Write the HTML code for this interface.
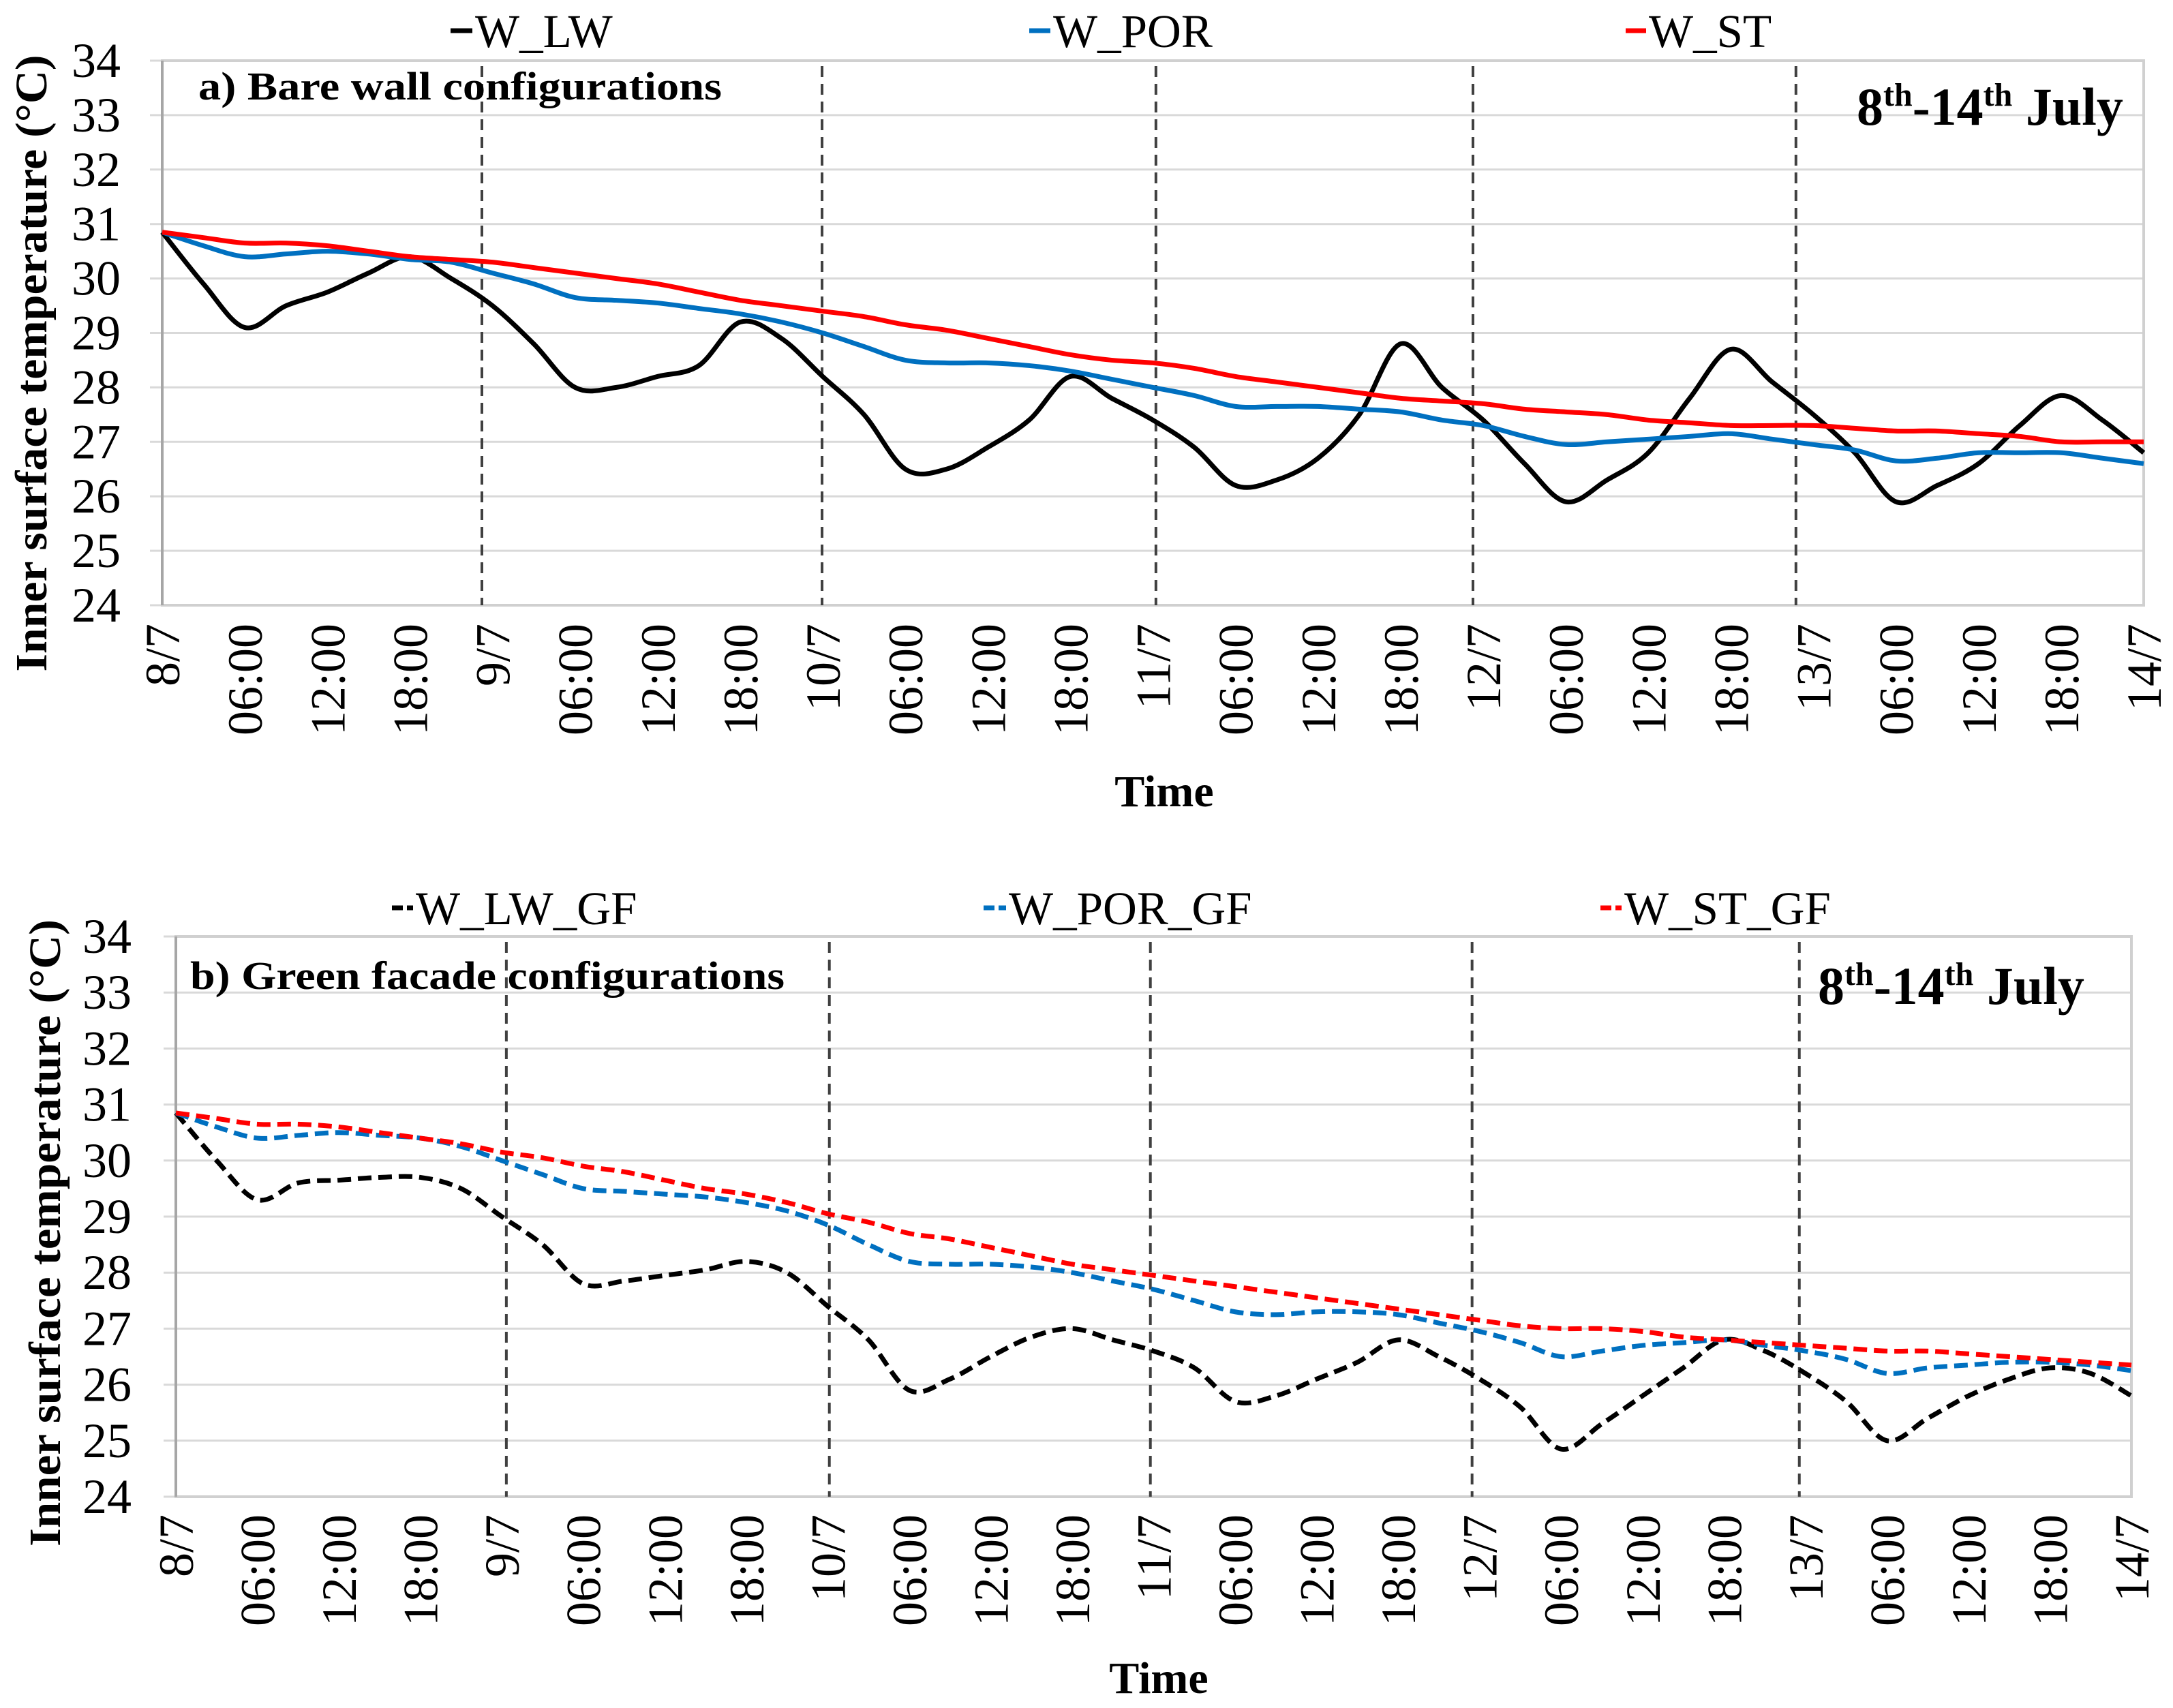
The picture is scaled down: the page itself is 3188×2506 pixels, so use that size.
<!DOCTYPE html>
<html><head><meta charset="utf-8"><style>
html,body{margin:0;padding:0;background:#fff;}
svg{display:block;font-family:"Liberation Serif",serif;}
</style></head><body>
<svg id="chart" width="3188" height="2506" viewBox="0 0 3188 2506" xmlns="http://www.w3.org/2000/svg"></svg>
<script>
const tickLabels = ["8/7","06:00","12:00","18:00","9/7","06:00","12:00","18:00","10/7","06:00","12:00","18:00","11/7","06:00","12:00","18:00","12/7","06:00","12:00","18:00","13/7","06:00","12:00","18:00","14/7"];
const yTicks = [24,25,26,27,28,29,30,31,32,33,34];
// values every 3 hours, 8/7 00:00 to 14/7 00:00
const wLW = [30.85,29.9,29.1,29.5,29.75,30.1,30.4,30.0,29.5,28.8,28.0,28.0,28.2,28.4,29.2,28.9,28.2,27.5,26.5,26.5,26.9,27.4,28.2,27.8,27.4,26.9,26.2,26.3,26.7,27.5,28.8,28.0,27.4,26.6,25.9,26.3,26.8,27.8,28.7,28.1,27.5,26.8,25.9,26.2,26.6,27.3,27.85,27.4,26.8];
const wPOR = [30.85,30.6,30.4,30.45,30.5,30.45,30.35,30.3,30.1,29.9,29.65,29.6,29.55,29.45,29.35,29.2,29.0,28.75,28.5,28.45,28.45,28.4,28.3,28.15,28.0,27.85,27.65,27.65,27.65,27.6,27.55,27.4,27.3,27.1,26.95,27.0,27.05,27.1,27.15,27.05,26.95,26.85,26.65,26.7,26.8,26.8,26.8,26.7,26.6];
const wST = [30.85,30.75,30.65,30.65,30.6,30.5,30.4,30.35,30.3,30.2,30.1,30.0,29.9,29.75,29.6,29.5,29.4,29.3,29.15,29.05,28.9,28.75,28.6,28.5,28.45,28.35,28.2,28.1,28.0,27.9,27.8,27.75,27.7,27.6,27.55,27.5,27.4,27.35,27.3,27.3,27.3,27.25,27.2,27.2,27.15,27.1,27.0,27.0,27.0];
const wLWGF = [30.85,30.0,29.3,29.6,29.65,29.7,29.7,29.5,29.0,28.5,27.8,27.85,27.95,28.05,28.2,28.0,27.4,26.8,25.9,26.1,26.5,26.85,27.0,26.8,26.6,26.3,25.7,25.8,26.1,26.4,26.8,26.5,26.1,25.6,24.85,25.3,25.8,26.3,26.8,26.6,26.2,25.7,25.0,25.4,25.8,26.1,26.3,26.2,25.8];
const wPORGF = [30.85,30.6,30.4,30.45,30.5,30.45,30.4,30.25,30.0,29.75,29.5,29.45,29.4,29.35,29.25,29.1,28.85,28.5,28.2,28.15,28.15,28.1,28.0,27.85,27.7,27.5,27.3,27.25,27.3,27.3,27.25,27.1,26.95,26.75,26.5,26.6,26.7,26.75,26.8,26.7,26.6,26.45,26.2,26.3,26.35,26.4,26.4,26.35,26.25];
const wSTGF = [30.85,30.75,30.65,30.65,30.6,30.5,30.4,30.3,30.15,30.05,29.9,29.8,29.65,29.5,29.4,29.25,29.05,28.9,28.7,28.6,28.45,28.3,28.15,28.05,27.95,27.85,27.75,27.65,27.55,27.45,27.35,27.25,27.15,27.05,27.0,27.0,26.95,26.85,26.8,26.75,26.7,26.65,26.6,26.6,26.55,26.5,26.45,26.4,26.35];
const dayLinesA = [0.968,1.998,3.009,3.969,4.947];
const dayLinesB = [1.014,2.005,2.990,3.977,4.981];

const NS="http://www.w3.org/2000/svg";
const svg=document.getElementById('chart');
function mk(tag,attrs,parent,text){const e=document.createElementNS(NS,tag);for(const k in attrs)e.setAttribute(k,attrs[k]);if(text!==undefined)e.textContent=text;(parent||svg).appendChild(e);return e;}
function smooth(pts){let d=`M${pts[0][0]},${pts[0][1]}`;for(let i=0;i<pts.length-1;i++){const p0=pts[Math.max(0,i-1)],p1=pts[i],p2=pts[i+1],p3=pts[Math.min(pts.length-1,i+2)];const c1=[p1[0]+(p2[0]-p0[0])/6,p1[1]+(p2[1]-p0[1])/6],c2=[p2[0]-(p3[0]-p1[0])/6,p2[1]-(p3[1]-p1[1])/6];d+=` C${c1[0]},${c1[1]} ${c2[0]},${c2[1]} ${p2[0]},${p2[1]}`;}return d;}

function panel(cfg){
  const g=mk('g',{},svg);
  
  
  const L=cfg.L,R=cfg.R,T=cfg.T,B=cfg.B;
  const x=t=>L+(R-L)*t/144;
  const y=v=>B-(B-T)*(v-24)/10;
  yTicks.forEach(v=>{
    const gl=mk('line',{x1:L-18,x2:R,y1:y(v),y2:y(v),stroke:'#d9d9d9','stroke-width':3},g);
    
    
    const tl=mk('text',{x:cfg.ylabX,y:y(v)+24,'text-anchor':'end','font-size':72},g,String(v));
    
    
  });
  const border=mk('rect',{x:L,y:T,width:R-L,height:B-T,fill:'none',stroke:'#d0d0d0','stroke-width':4},g);
  
  
  const ax=mk('line',{x1:L,x2:L,y1:T,y2:B,stroke:'#a6a6a6','stroke-width':4},g);
  
  
  tickLabels.forEach((s,i)=>{
    const xx=x(i*6);
    const t=mk('text',{x:0,y:0,'text-anchor':'end','font-size':72,transform:`translate(${xx+25},${cfg.xlabY}) rotate(-90)`},g,s);
    
    
  });
  cfg.days.forEach(d=>{
    const l=mk('line',{x1:x(d*24),x2:x(d*24),y1:T+8,y2:B,stroke:'#404040','stroke-width':4,'stroke-dasharray':'16,10'},g);
    
    
  });
  cfg.series.forEach(s=>{
    const pts=s.data.map((v,i)=>[x(i*3),y(v)]);
    const p=mk('path',{d:smooth(pts),fill:'none',stroke:s.color,'stroke-width':7,'stroke-dasharray':s.dash||'none','stroke-linejoin':'round'},g);
    
    
    const lm=mk('line',{x1:s.lx[0],x2:s.lx[1],y1:cfg.legY,y2:cfg.legY,stroke:s.color,'stroke-width':7,'stroke-dasharray':s.dash?'16,6':'none'},g);
    
    
    const lt=mk('text',{x:s.lx[1]+4,y:cfg.legY+24,'font-size':69},g,s.label);
    
    
  });
  const tt=mk('text',{x:cfg.titleX,y:cfg.titleY,'font-size':58,'font-weight':'bold',textLength:cfg.titleW,lengthAdjust:'spacingAndGlyphs'},g,cfg.title);
  
  
  const dt=mk('text',{x:cfg.dateX,y:cfg.dateY,'font-size':78,'font-weight':'bold'},g);
  
  
  mk('tspan',{},dt,'8');mk('tspan',{dy:-28,'font-size':48},dt,'th');mk('tspan',{dy:28},dt,'-14');mk('tspan',{dy:-28,'font-size':48},dt,'th');mk('tspan',{dy:28},dt,' July');
  const xt=mk('text',{x:cfg.timeX,y:cfg.timeY,'text-anchor':'middle','font-size':66,'font-weight':'bold'},g,'Time');
  
  
  const yt=mk('text',{x:0,y:0,'text-anchor':'middle','font-size':66,'font-weight':'bold',textLength:cfg.ytW,lengthAdjust:'spacingAndGlyphs',transform:`translate(${cfg.ytX},${cfg.ytY}) rotate(-90)`},g,'Inner surface temperature (°C)');
  
  
}
panel({name:'panel-a-bare-wall',L:238,R:3145,T:89,B:888,ylabX:177,xlabY:915,days:dayLinesA,legY:45,
  series:[{key:'w-lw',label:'W_LW',data:wLW,color:'#000',lx:[661,693]},{key:'w-por',label:'W_POR',data:wPOR,color:'#0070C0',lx:[1510,1541]},{key:'w-st',label:'W_ST',data:wST,color:'#FF0000',lx:[2385,2415]}],
  title:'a) Bare wall configurations',titleX:291,titleY:146,titleW:768,dateX:2724,dateY:183,timeX:1708,timeY:1183,ytX:68,ytY:533,ytW:905});
panel({name:'panel-b-green-facade',L:258,R:3127,T:1374,B:2196,ylabX:193,xlabY:2222,days:dayLinesB,legY:1332,
  series:[{key:'w-lw-gf',label:'W_LW_GF',data:wLWGF,color:'#000',dash:'20,10',lx:[575,606]},{key:'w-por-gf',label:'W_POR_GF',data:wPORGF,color:'#0070C0',dash:'20,10',lx:[1443,1476]},{key:'w-st-gf',label:'W_ST_GF',data:wSTGF,color:'#FF0000',dash:'20,10',lx:[2348,2379]}],
  title:'b) Green facade configurations',titleX:279,titleY:1451,titleW:872,dateX:2667,dateY:1473,timeX:1700,timeY:2484,ytX:88,ytY:1809,ytW:920});
</script>
</body></html>
